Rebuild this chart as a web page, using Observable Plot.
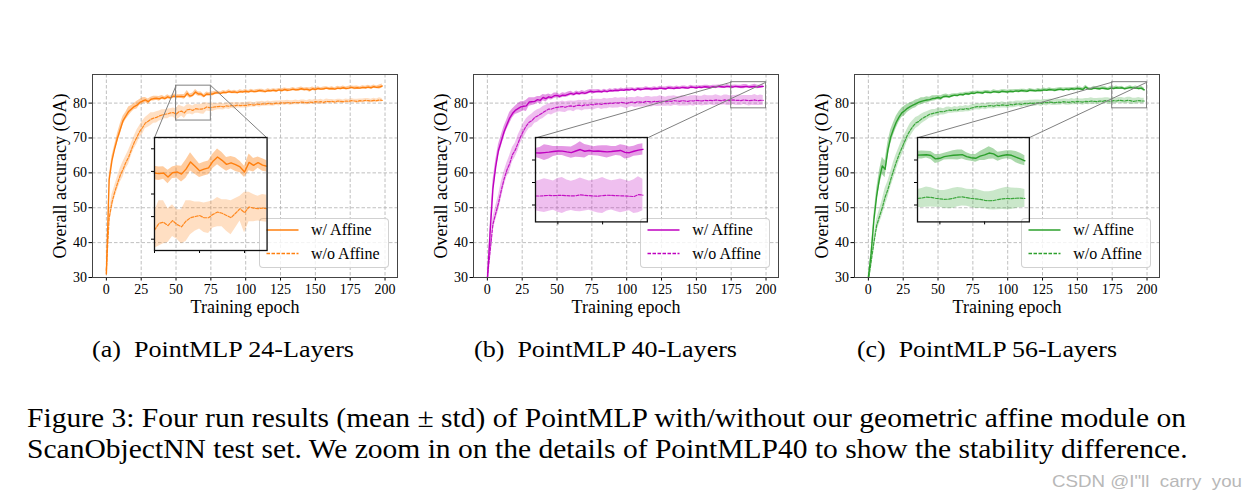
<!DOCTYPE html>
<html><head><meta charset="utf-8">
<script src="https://cdn.jsdelivr.net/npm/d3@7"></script>
<script src="https://cdn.jsdelivr.net/npm/@observablehq/plot@0.6"></script>
<style>
body{margin:0;background:#fff;}
#fig{position:relative;width:1253px;height:502px;overflow:hidden;background:#fff;font-family:"Liberation Serif","Times New Roman",serif;color:#000;}
.sub{position:absolute;top:334px;font-size:24px;line-height:30px;white-space:pre;transform-origin:0 50%;}
.cap{position:absolute;left:27px;font-size:26.5px;line-height:30px;white-space:pre;transform-origin:0 50%;}
.wm{position:absolute;top:472px;font-family:"Liberation Sans",Arial,sans-serif;font-size:17px;line-height:20px;color:#b8b8b8;white-space:pre;transform-origin:0 50%;}
.legend{position:absolute;background:rgba(255,255,255,0.8);border:1px solid rgba(204,204,204,0.9);border-radius:4px;box-sizing:border-box;}
.legend .t{position:absolute;left:51px;font-size:16px;line-height:20px;white-space:pre;}
</style></head>
<body><div id="fig"></div>
<script>
// ---------------- data ----------------
const EPOCHS = d3.range(0, 200, 2);
const TICKS_X = [0, 25, 50, 75, 100, 125, 150, 175, 200];
const TICKS_Y = [30, 40, 50, 60, 70, 80];
const SERIES = ["w/ Affine", "w/o Affine"];
const SUBCAPTIONS = ["(a)\u2002PointMLP 24-Layers", "(b)\u2002PointMLP 40-Layers", "(c)\u2002PointMLP 56-Layers"];
const CAPTION = ["Figure 3: Four run results (mean \u00b1 std) of PointMLP with/without our geometric affine module on",
                 "ScanObjectNN test set. We zoom in on the details of PointMLP40 to show the stability difference."];
const WATERMARK = "CSDN @I\"ll  carry  you";

// (a) PointMLP 24-Layers
const A_W_MEAN = [31, 58, 63.5, 67, 70, 72.5, 75, 76.3, 77.6, 78.3,
  79, 79.4, 80.2, 80.6, 80.9, 80.4, 81.1, 81.3, 81.4, 81.2,
  81.6, 81.3, 81.8, 81.5, 82.0, 81.9, 81.9, 81.9, 81.8, 82.8,
  82.0, 82.3, 83.2, 82.6, 82.6, 81.95, 82.6, 82.5, 82.6, 82.9,
  83.0, 82.8, 83.1, 83.0, 83.3, 83.1, 83.2, 83.0, 83.3, 83.2,
  83.4, 83.2, 83.5, 83.3, 83.4, 83.6, 83.5, 83.3, 83.6, 83.5,
  83.7, 83.5, 83.8, 83.6, 83.9, 83.7, 83.8, 84.0, 83.8, 83.9,
  84.1, 83.9, 84.0, 83.7, 84.1, 83.9, 84.2, 84.0, 84.1, 84.3,
  84.1, 84.2, 84.0, 84.3, 84.2, 84.4, 84.2, 84.3, 84.5, 84.3,
  84.4, 84.3, 84.5, 84.4, 84.6, 84.4, 84.7, 84.5, 84.6, 84.9];
const A_W_STD = [0.3, 1.0, 1.2, 1.0, 1.3, 1.5, 1.2, 1.1, 1.3, 1.0,
  0.9, 1.1, 0.8, 0.9, 0.7, 0.8, 0.6, 0.7, 0.6, 0.7,
  0.6, 0.5, 0.6, 0.5, 0.6, 0.6, 0.5, 0.6, 0.7, 0.8,
  0.6, 0.6, 0.7, 0.6, 0.6, 0.5, 0.6, 0.5, 0.6, 0.5,
  0.5, 0.4, 0.5, 0.4, 0.5, 0.4, 0.5, 0.4, 0.5, 0.4,
  0.5, 0.4, 0.5, 0.4, 0.5, 0.4, 0.5, 0.4, 0.5, 0.4,
  0.4, 0.5, 0.4, 0.5, 0.4, 0.5, 0.4, 0.5, 0.4, 0.5,
  0.5, 0.4, 0.5, 0.6, 0.5, 0.4, 0.5, 0.4, 0.5, 0.4,
  0.4, 0.5, 0.4, 0.5, 0.4, 0.5, 0.4, 0.5, 0.4, 0.5,
  0.5, 0.4, 0.5, 0.4, 0.5, 0.4, 0.5, 0.4, 0.6, 0.6];
const A_O_MEAN = [32, 47, 51.5, 54.5, 57, 59.3, 61, 63, 64.5, 66.7,
  68.7, 70.3, 71.9, 73, 74.3, 74.8, 75.4, 75.7, 75.9, 76.3,
  76.6, 76.8, 76.9, 77.2, 77.3, 76.8, 77.5, 77.7, 77.2, 78.1,
  78.2, 77.9, 78.4, 78.3, 78.3, 78.4, 78.9, 78.7, 78.8, 78.9,
  79.0, 79.1, 78.9, 79.2, 79.1, 79.3, 79.2, 79.4, 79.3, 79.4,
  79.3, 79.5, 79.6, 79.4, 79.7, 79.6, 79.8, 79.7, 79.9, 79.8,
  79.8, 80.0, 79.9, 80.1, 80.0, 80.2, 80.0, 80.1, 80.2, 80.1,
  80.3, 80.2, 80.1, 80.3, 80.2, 80.4, 80.3, 80.4, 80.2, 80.5,
  80.4, 80.5, 80.3, 80.6, 80.5, 80.4, 80.6, 80.5, 80.7, 80.6,
  80.5, 80.7, 80.6, 80.8, 80.7, 80.6, 80.8, 80.7, 80.9, 80.8];
const A_O_STD = [0.5, 2.0, 2.2, 1.8, 1.9, 2.0, 2.2, 1.8, 2.0, 1.7,
  1.8, 2.0, 1.7, 1.9, 1.6, 1.7, 1.8, 1.5, 1.6, 1.4,
  1.5, 1.3, 1.4, 1.2, 1.3, 1.6, 1.9, 1.4, 1.6, 1.4,
  1.3, 1.3, 1.3, 1.2, 1.4, 1.6, 1.2, 1.1, 1.2, 1.0,
  0.9, 1.0, 0.9, 0.8, 0.9, 0.8, 0.9, 0.8, 0.7, 0.8,
  0.7, 0.8, 0.7, 0.6, 0.7, 0.8, 0.7, 0.6, 0.7, 0.6,
  0.7, 0.6, 0.7, 0.6, 0.7, 0.6, 0.7, 0.6, 0.7, 0.6,
  0.6, 0.7, 0.6, 0.7, 0.6, 0.7, 0.6, 0.7, 0.6, 0.7,
  0.6, 0.5, 0.6, 0.5, 0.6, 0.5, 0.6, 0.5, 0.6, 0.5,
  0.6, 0.5, 0.6, 0.5, 0.6, 0.5, 0.6, 0.5, 0.6, 0.5];

// (b) PointMLP 40-Layers
const B_W_MEAN = [29, 43, 55.5, 61.8, 66.5, 69.1, 71.8, 73.8, 75.7, 77,
  77.9, 78.4, 78.9, 79.1, 79.2, 80.3, 80.4, 80.5, 81.0, 80.8,
  81.6, 81.3, 81.8, 81.6, 82.1, 82.2, 81.9, 82.3, 82.2, 82.5,
  82.8, 82.5, 82.9, 82.7, 83.0, 82.8, 83.1, 83.4, 83.2, 83.3,
  83.4, 83.2, 83.5, 83.3, 83.6, 83.5, 83.7, 83.6, 83.8, 83.7,
  83.9, 83.8, 84.0, 83.7, 84.1, 83.9, 84.0, 84.2, 84.1, 84.0,
  84.2, 84.1, 84.3, 84.2, 84.1, 84.4, 84.3, 84.2, 84.4, 84.3,
  84.5, 84.4, 84.3, 84.6, 84.5, 84.4, 84.6, 84.5, 84.7, 84.6,
  84.5, 84.7, 84.6, 84.8, 84.7, 84.6, 84.8, 84.7, 84.6, 84.8,
  84.7, 84.6, 84.7, 84.8, 84.6, 84.7, 84.8, 84.6, 84.7, 84.8];
const B_W_STD = [0.5, 2.0, 2.2, 1.8, 1.6, 1.7, 1.5, 1.4, 1.6, 1.3,
  1.2, 1.4, 1.5, 1.3, 1.6, 1.2, 1.1, 1.0, 0.9, 1.1,
  0.9, 1.0, 0.8, 0.7, 0.8, 0.7, 0.6, 0.7, 0.6, 0.7,
  0.6, 0.5, 0.6, 0.5, 0.6, 0.5, 0.6, 0.5, 0.6, 0.5,
  0.5, 0.4, 0.5, 0.4, 0.5, 0.4, 0.5, 0.4, 0.5, 0.4,
  0.4, 0.5, 0.4, 0.5, 0.4, 0.5, 0.4, 0.5, 0.4, 0.5,
  0.5, 0.4, 0.5, 0.4, 0.5, 0.4, 0.5, 0.4, 0.5, 0.4,
  0.4, 0.5, 0.4, 0.5, 0.4, 0.5, 0.4, 0.5, 0.4, 0.5,
  0.5, 0.4, 0.5, 0.4, 0.5, 0.4, 0.5, 0.4, 0.5, 0.4,
  0.4, 0.5, 0.6, 0.5, 0.4, 0.5, 0.6, 0.5, 0.4, 0.5];
const B_O_MEAN = [30, 37.5, 45.3, 48.4, 51.3, 55, 58.2, 60.8, 62.6, 65.2,
  66.5, 68.5, 70.5, 72.1, 73.5, 74.5, 75.0, 75.9, 76.3, 76.8,
  77.3, 77.8, 78.3, 78.3, 78.6, 78.8, 78.9, 79.0, 78.8, 79.1,
  79.2, 79.0, 79.3, 79.4, 79.2, 79.5, 79.4, 79.6, 79.5, 79.7,
  79.8, 79.6, 79.9, 79.8, 80.0, 79.9, 80.1, 80.0, 80.2, 80.1,
  79.9, 80.2, 80.3, 80.1, 80.4, 80.3, 80.2, 80.5, 80.4, 80.3,
  80.5, 80.4, 80.6, 80.5, 80.4, 80.6, 80.5, 80.7, 80.6, 80.5,
  80.7, 80.6, 80.5, 80.7, 80.6, 80.8, 80.7, 80.6, 80.8, 80.7,
  80.8, 80.7, 80.9, 80.8, 80.7, 80.9, 80.8, 80.7, 80.9, 80.8,
  80.8, 80.7, 80.9, 80.8, 80.7, 80.8, 80.9, 80.7, 80.8, 80.8];
const B_O_STD = [0.5, 1.5, 1.8, 2.0, 2.2, 2.4, 2.1, 2.0, 2.3, 2.1,
  2.0, 2.2, 1.9, 2.1, 2.0, 1.8, 1.9, 1.7, 1.8, 1.6,
  1.7, 1.6, 1.5, 1.7, 1.6, 1.5, 1.4, 1.6, 1.5, 1.4,
  1.4, 1.5, 1.3, 1.4, 1.5, 1.4, 1.3, 1.4, 1.5, 1.4,
  1.3, 1.4, 1.5, 1.4, 1.3, 1.4, 1.5, 1.4, 1.3, 1.4,
  1.5, 1.4, 1.3, 1.4, 1.5, 1.4, 1.3, 1.4, 1.5, 1.4,
  1.3, 1.4, 1.5, 1.4, 1.3, 1.4, 1.5, 1.4, 1.3, 1.4,
  1.5, 1.4, 1.3, 1.4, 1.5, 1.4, 1.3, 1.4, 1.5, 1.4,
  1.3, 1.4, 1.5, 1.4, 1.3, 1.4, 1.5, 1.4, 1.3, 1.4,
  1.5, 1.4, 1.3, 1.4, 1.5, 1.4, 1.6, 1.4, 1.5, 1.4];

// (c) PointMLP 56-Layers
const C_W_MEAN = [30, 36.9, 46.5, 53.5, 58.5, 62, 61, 66.5, 70.2, 72.5,
  74.5, 76.0, 77.2, 77.8, 78.5, 79.0, 79.4, 79.8, 80.2, 80.5,
  80.7, 80.9, 81.0, 81.3, 81.4, 81.6, 81.4, 81.9, 82.0, 81.8,
  82.1, 82.3, 82.2, 82.5, 82.4, 82.7, 82.6, 82.9, 82.8, 83.1,
  83.0, 82.9, 83.2, 83.1, 83.0, 83.3, 83.2, 83.1, 83.4, 83.3,
  83.2, 83.4, 83.3, 83.5, 83.4, 83.6, 83.5, 83.4, 83.7, 83.6,
  83.5, 83.7, 83.6, 83.8, 83.7, 83.9, 83.8, 83.7, 83.9, 84.0,
  83.8, 84.0, 83.9, 84.1, 84.0, 84.2, 84.1, 83.9, 84.6, 84.1,
  84.0, 84.3, 84.2, 84.1, 84.3, 84.2, 84.0, 84.3, 84.2, 84.4,
  84.3, 84.4, 84.1, 84.3, 84.5, 84.3, 84.4, 84.2, 84.3, 83.8];
const C_W_STD = [0.3, 1.0, 1.5, 2.0, 2.2, 2.5, 2.4, 2.2, 2.0, 1.8,
  1.7, 1.5, 1.3, 1.4, 1.2, 1.1, 1.0, 1.1, 0.9, 1.0,
  0.8, 0.9, 0.7, 0.8, 0.7, 0.6, 0.7, 0.6, 0.6, 0.5,
  0.5, 0.4, 0.5, 0.4, 0.5, 0.4, 0.5, 0.4, 0.5, 0.4,
  0.4, 0.5, 0.4, 0.5, 0.4, 0.5, 0.4, 0.5, 0.4, 0.5,
  0.5, 0.4, 0.5, 0.4, 0.5, 0.4, 0.5, 0.4, 0.5, 0.4,
  0.4, 0.5, 0.4, 0.5, 0.4, 0.5, 0.4, 0.5, 0.4, 0.5,
  0.5, 0.4, 0.5, 0.4, 0.5, 0.4, 0.5, 0.4, 0.5, 0.4,
  0.4, 0.5, 0.4, 0.5, 0.4, 0.5, 0.4, 0.5, 0.4, 0.5,
  0.4, 0.4, 0.3, 0.4, 0.5, 0.4, 0.5, 0.4, 0.5, 0.5];
const C_O_MEAN = [29, 34.5, 40, 45, 47.5, 50, 53, 55.2, 58, 60.6,
  63, 65.2, 67.1, 68.9, 70.8, 72.2, 73.3, 74.3, 74.7, 75.4,
  75.9, 76.3, 76.8, 77.0, 77.2, 77.4, 77.6, 77.5, 77.8, 78.0,
  77.9, 78.1, 78.0, 78.3, 78.2, 78.4, 78.3, 78.6, 78.8, 79.0,
  78.9, 79.1, 79.0, 79.2, 79.3, 79.1, 79.4, 79.3, 79.5, 79.4,
  79.3, 79.6, 79.5, 79.7, 79.8, 79.6, 79.9, 79.8, 80.0, 79.9,
  80.0, 80.1, 79.9, 80.2, 80.1, 80.3, 80.2, 80.1, 80.3, 80.2,
  80.4, 80.3, 80.2, 80.4, 80.3, 80.5, 80.4, 80.3, 80.5, 80.4,
  80.6, 80.5, 80.4, 80.6, 80.5, 80.7, 80.6, 80.5, 80.7, 80.6,
  80.8, 80.7, 80.6, 80.8, 80.7, 80.5, 80.6, 80.7, 80.6, 80.6];
const C_O_STD = [0.3, 1.0, 1.5, 1.8, 2.0, 2.2, 2.5, 2.3, 2.2, 2.4,
  2.3, 2.1, 2.2, 2.0, 1.8, 1.9, 1.7, 1.6, 1.5, 1.4,
  1.3, 1.2, 1.1, 1.2, 1.0, 1.1, 1.0, 0.9, 1.0, 0.9,
  0.8, 0.9, 0.8, 0.9, 0.8, 0.9, 0.8, 0.9, 0.8, 0.9,
  0.9, 0.8, 0.9, 0.8, 0.9, 0.8, 0.9, 0.8, 0.9, 0.8,
  0.8, 0.9, 0.8, 0.9, 0.8, 0.9, 0.8, 0.9, 0.8, 0.9,
  0.9, 0.8, 0.9, 0.8, 0.9, 0.8, 0.9, 0.8, 0.9, 0.8,
  0.8, 0.9, 0.8, 0.9, 0.8, 0.9, 0.8, 0.9, 0.8, 0.9,
  0.9, 0.8, 0.9, 0.8, 0.9, 0.8, 0.9, 0.8, 0.9, 0.8,
  0.8, 0.9, 0.8, 0.9, 1.0, 0.9, 0.8, 0.9, 0.8, 0.8];

// zoomed-in (inset) views, one value per epoch
const IA_EPOCHS = d3.range(50, 76);
const IA_W_MEAN = [81.86, 81.8, 81.86, 81.5, 81.88, 81.95, 81.76, 82.2, 82.84, 82.45, 82.05, 82.2, 82.31,
  82.9, 83.28, 82.98, 82.62, 82.76, 82.6, 82.39, 81.95, 82.8, 82.54, 82.78, 82.56, 82.45];
const IA_W_STD = [0.6, 0.6, 0.55, 0.6, 0.5, 0.55, 0.7, 0.8, 0.8, 0.7, 0.6, 0.6, 0.6, 0.65, 0.7, 0.7, 0.6,
  0.55, 0.6, 0.5, 0.5, 0.75, 0.6, 0.5, 0.55, 0.5];
const IA_O_MEAN = [76.8, 77.4, 77.5, 77.2, 77.65, 77.3, 77.1, 77.6, 77.9, 78.0, 78.1, 77.9, 77.9, 78.2, 78.4,
  78.3, 78.1, 77.9, 78.3, 78.7, 78.35, 78.85, 78.75, 78.7, 78.75, 78.7];
const IA_O_STD = [1.6, 2.0, 1.9, 1.5, 1.4, 1.3, 1.5, 1.8, 1.5, 1.3, 1.2, 1.3, 1.4, 1.2, 1.3, 1.2, 1.4, 1.5,
  1.3, 1.1, 1.8, 1.3, 1.2, 1.1, 1.2, 1.2];
const IBC_EPOCHS = d3.range(175, 200);
const IB_W_MEAN = [84.63, 84.62, 84.66, 84.7, 84.76, 84.8, 84.79, 84.72, 84.66, 84.8, 84.93, 84.78, 84.85,
  84.78, 84.8, 84.76, 84.72, 84.75, 84.8, 84.85, 84.68, 84.65, 84.78, 84.88, 84.95];
const IB_W_STD = [0.4, 0.5, 0.7, 0.6, 0.45, 0.4, 0.4, 0.45, 0.5, 0.55, 0.7, 0.6, 0.45, 0.4, 0.45, 0.5, 0.55,
  0.45, 0.4, 0.5, 0.6, 0.5, 0.45, 0.5, 0.5];
const IB_O_MEAN = [80.8, 80.8, 80.83, 80.85, 80.84, 80.85, 80.85, 80.83, 80.81, 80.82, 80.9, 80.86, 80.83,
  80.8, 80.78, 80.84, 80.87, 80.85, 80.83, 80.82, 80.8, 80.78, 80.75, 80.92, 80.88];
const IB_O_STD = [1.3, 1.4, 1.5, 1.4, 1.3, 1.5, 1.6, 1.4, 1.3, 1.4, 1.5, 1.4, 1.3, 1.4, 1.5, 1.6, 1.4, 1.3,
  1.4, 1.5, 1.4, 1.3, 1.5, 1.6, 1.4];
const IC_W_MEAN = [84.43, 84.45, 84.47, 84.4, 84.1, 84.15, 84.3, 84.37, 84.42, 84.45, 84.48, 84.3, 84.2,
  84.15, 84.35, 84.45, 84.62, 84.55, 84.3, 84.4, 84.47, 84.42, 84.25, 84.1, 83.93];
const IC_W_STD = [0.35, 0.35, 0.3, 0.35, 0.4, 0.35, 0.3, 0.35, 0.4, 0.45, 0.4, 0.35, 0.3, 0.35, 0.4, 0.5,
  0.55, 0.45, 0.4, 0.35, 0.35, 0.4, 0.5, 0.5, 0.45];
const IC_O_MEAN = [80.58, 80.62, 80.7, 80.68, 80.6, 80.55, 80.5, 80.52, 80.6, 80.7, 80.72, 80.65, 80.58,
  80.55, 80.5, 80.42, 80.38, 80.4, 80.48, 80.55, 80.58, 80.56, 80.6, 80.62, 80.58];
const IC_O_STD = [0.8, 0.85, 0.9, 0.85, 0.8, 0.75, 0.8, 0.85, 0.9, 0.85, 0.8, 0.75, 0.8, 0.85, 0.8, 0.75,
  0.8, 0.85, 0.9, 0.95, 1.0, 0.95, 0.9, 0.85, 0.8];

// ---------------- layout & style ----------------
const FRAME = {top: 74, w: 305, h: 203};
const M = {l: 62, r: 14, t: 14, b: 44};
const panels = [
  {left: 92, color: "#ff7f0e", w: [A_W_MEAN, A_W_STD], o: [A_O_MEAN, A_O_STD], sub: [92, 354],
   inset: {epochs: IA_EPOCHS, w: [IA_W_MEAN, IA_W_STD], o: [IA_O_MEAN, IA_O_STD],
           xd: [50, 75], yd: [75, 85], xt: [50, 60, 70], yt: [76, 78, 80, 82, 84], box: [34.5, 115.3, 37.6, 70]}},
  {left: 473.3, color: "#bf00bf", w: [B_W_MEAN, B_W_STD], o: [B_O_MEAN, B_O_STD], sub: [474, 737],
   inset: {epochs: IBC_EPOCHS, w: [IB_W_MEAN, IB_W_STD], o: [IB_O_MEAN, IB_O_STD],
           xd: [175, 200], yd: [78.5, 86], xt: [180, 190], yt: [80, 82, 84], box: [34.5, 114.8, 45.8, 70]}},
  {left: 854.3, color: "#2ca02c", w: [C_W_MEAN, C_W_STD], o: [C_O_MEAN, C_O_STD], sub: [857, 1117],
   inset: {epochs: IBC_EPOCHS, w: [IC_W_MEAN, IC_W_STD], o: [IC_O_MEAN, IC_O_STD],
           xd: [175, 200], yd: [78.5, 86], xt: [180, 190], yt: [80, 82, 84], box: [34.7, 115.0, 45.8, 70]}}
];
const GRID = {stroke: "#b0b0b0", strokeOpacity: 1, strokeWidth: 0.8, strokeDasharray: "3.5,2"};
const FONT = {fontFamily: "'Liberation Serif','Times New Roman',serif", fontSize: "14px", background: "transparent", overflow: "visible", color: "#000"};

function rows(epochs, mean, std) {
  return epochs.map((e, i) => ({e, m: mean[i], lo: mean[i] - std[i], hi: mean[i] + std[i]}));
}
function seriesMarks(W, O, color) {
  return [
    Plot.areaY(O, {x: "e", y1: "lo", y2: "hi", fill: color, fillOpacity: 0.25, clip: true}),
    Plot.areaY(W, {x: "e", y1: "lo", y2: "hi", fill: color, fillOpacity: 0.4, clip: true}),
    Plot.line(O, {x: "e", y: "m", stroke: color, strokeWidth: 1.2, strokeOpacity: 0.9, strokeDasharray: "3,1.5", clip: true}),
    Plot.line(W, {x: "e", y: "m", stroke: color, strokeWidth: 1.4, clip: true})
  ];
}
function fitText(el, x0, x1) {
  el.style.left = x0 + "px";
  const w = el.getBoundingClientRect().width;
  el.style.transform = `scaleX(${(x1 - x0) / w})`;
}

const fig = document.getElementById("fig");

panels.forEach((p, k) => {
  const W = rows(EPOCHS, p.w[0], p.w[1]);
  const O = rows(EPOCHS, p.o[0], p.o[1]);
  const ins = p.inset;
  const [bx1, bx2, by1, by2] = ins.box;
  const zoom = [{x1: ins.xd[0], x2: ins.xd[1], y1: ins.yd[0], y2: ins.yd[1]}];
  const connectors = [
    {x1: ins.xd[0], y1: ins.yd[1], x2: bx1, y2: by2},
    {x1: ins.xd[1], y1: ins.yd[1], x2: bx2, y2: by2}
  ];
  const main = Plot.plot({
    width: M.l + FRAME.w + M.r, height: M.t + FRAME.h + M.b,
    marginLeft: M.l, marginRight: M.r, marginTop: M.t, marginBottom: M.b,
    style: FONT,
    x: {domain: [-9.95, 208.95]},
    y: {domain: [30, 88.2]},
    marks: [
      Plot.gridX({ticks: TICKS_X, ...GRID}),
      Plot.gridY({ticks: TICKS_Y, ...GRID}),
      ...seriesMarks(W, O, p.color),
      Plot.rect(zoom, {x1: "x1", x2: "x2", y1: "y1", y2: "y2", stroke: "#808080", strokeWidth: 1, fill: "none"}),
      Plot.link(connectors, {x1: "x1", y1: "y1", x2: "x2", y2: "y2", stroke: "#808080", strokeWidth: 1}),
      Plot.axisX({ticks: TICKS_X, tickSize: 3.5, tickPadding: 3, label: null}),
      Plot.axisY({ticks: TICKS_Y, tickSize: 3.5, tickPadding: 2, label: null}),
      Plot.frame({stroke: "#444", strokeWidth: 1}),
      Plot.text(["Training epoch"], {frameAnchor: "bottom", lineAnchor: "middle", textAnchor: "middle", dy: 30, fontSize: 18}),
      Plot.text(["Overall accuracy (OA)"], {frameAnchor: "left", lineAnchor: "middle", textAnchor: "middle", rotate: -90, dx: -32, fontSize: 18})
    ]
  });
  const svgLeft = p.left - M.l, svgTop = FRAME.top - M.t;
  main.style.position = "absolute";
  main.style.left = svgLeft + "px";
  main.style.top = svgTop + "px";
  fig.appendChild(main);

  // legend (drawn under the inset)
  const lg = document.createElement("div");
  lg.className = "legend";
  lg.style.left = (p.left + FRAME.w - 8 - 130) + "px";
  lg.style.top = (FRAME.top + FRAME.h - 9 - 50) + "px";
  lg.style.width = "130px"; lg.style.height = "50px";
  lg.innerHTML = `<svg width="130" height="50" style="position:absolute;left:-1px;top:-1px">
      <line x1="7.5" x2="39.5" y1="12" y2="12" stroke="${p.color}" stroke-width="1.4"/>
      <line x1="7.5" x2="39.5" y1="35.5" y2="35.5" stroke="${p.color}" stroke-width="1.3" stroke-dasharray="3.5,1.5"/>
    </svg>
    <div class="t" style="top:1px">${SERIES[0]}</div>
    <div class="t" style="top:25px">${SERIES[1]}</div>`;
  fig.appendChild(lg);

  // inset
  const sx = main.scale("x"), sy = main.scale("y");
  const L = svgLeft + sx.apply(bx1), R = svgLeft + sx.apply(bx2);
  const T = svgTop + sy.apply(by2), B = svgTop + sy.apply(by1);
  const IM = 6;
  const IW = rows(ins.epochs, ins.w[0], ins.w[1]);
  const IO = rows(ins.epochs, ins.o[0], ins.o[1]);
  const inset = Plot.plot({
    width: (R - L) + IM + 1, height: (B - T) + IM + 1,
    marginLeft: IM, marginBottom: IM, marginTop: 1, marginRight: 1,
    style: FONT,
    x: {domain: ins.xd},
    y: {domain: ins.yd},
    marks: [
      ...seriesMarks(IW, IO, p.color),
      Plot.axisX({ticks: ins.xt, tickSize: 3, tickFormat: () => "", label: null}),
      Plot.axisY({ticks: ins.yt, tickSize: 3, tickFormat: () => "", label: null}),
      Plot.frame({stroke: "#111", strokeWidth: 1.3})
    ]
  });
  inset.style.position = "absolute";
  inset.style.left = (L - IM) + "px";
  inset.style.top = (T - 1) + "px";
  fig.appendChild(inset);

  const sc = document.createElement("div");
  sc.className = "sub";
  sc.textContent = SUBCAPTIONS[k];
  fig.appendChild(sc);
  fitText(sc, p.sub[0], p.sub[1]);
});

const capEls = CAPTION.map((line, i) => {
  const d = document.createElement("div");
  d.className = "cap";
  d.style.top = (403 + i * 31) + "px";
  d.textContent = line;
  fig.appendChild(d);
  return d;
});
const capScale = (1186 - 27) / capEls[0].getBoundingClientRect().width;
capEls.forEach(d => d.style.transform = `scaleX(${capScale})`);

const wm = document.createElement("div");
wm.className = "wm";
wm.textContent = WATERMARK;
fig.appendChild(wm);
fitText(wm, 1052, 1242);
</script>
</body></html>
